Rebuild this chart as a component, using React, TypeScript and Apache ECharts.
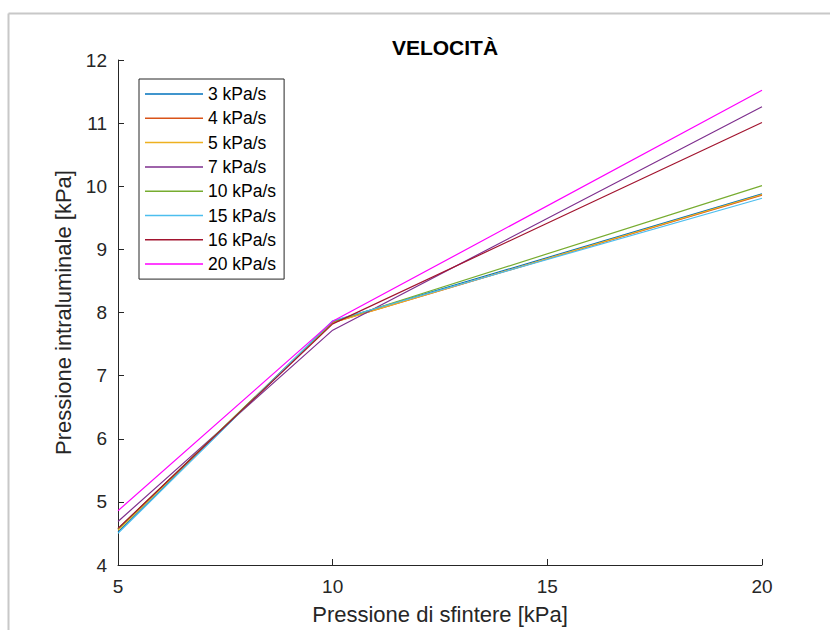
import React, { useEffect, useRef } from "react";
import * as echarts from "echarts";

const xValues = [5, 10, 20];
const seriesNames = ["3 kPa/s", "4 kPa/s", "5 kPa/s", "7 kPa/s", "10 kPa/s", "15 kPa/s", "16 kPa/s", "20 kPa/s"];
const v3 = [4.52, 7.86, 9.88];
const v4 = [4.57, 7.84, 9.86];
const v5 = [4.55, 7.84, 9.87];
const v7 = [4.69, 7.72, 11.26];
const v10 = [4.57, 7.85, 10.01];
const v15 = [4.5, 7.87, 9.81];
const v16 = [4.58, 7.82, 11.01];
const v20 = [4.86, 7.86, 11.52];
const seriesValues = [v3, v4, v5, v7, v10, v15, v16, v20];
const colors = ["#0072BD", "#D95319", "#EDB120", "#7E2F8E", "#77AC30", "#4DBEEE", "#A2142F", "#FF00FF"];

const FONT = "Liberation Sans, Arial, Helvetica, sans-serif";
const AX = "#262626";

export default function App() {
  const ref = useRef<HTMLDivElement>(null);
  useEffect(() => {
    const chart = echarts.init(ref.current!, null, { renderer: "svg" });
    chart.setOption({
      animation: false,
      backgroundColor: "#ffffff",
      title: {
        text: "VELOCITÀ",
        left: 440,
        textAlign: "center",
        top: 32,
        textStyle: { fontFamily: FONT, fontSize: 21, fontWeight: "bold", color: "#000" },
      },
      graphic: [
        { type: "line", shape: { x1: 8.5, y1: 13.5, x2: 8.5, y2: 630 }, style: { stroke: "#c8c8c8", lineWidth: 2 } },
        { type: "line", shape: { x1: 8.5, y1: 13.5, x2: 830, y2: 13.5 }, style: { stroke: "#c8c8c8", lineWidth: 2 } },
      ],
      legend: {
        orient: "vertical",
        left: 139,
        top: 79,
        padding: [5, 8, 5, 6],
        itemGap: 4.3,
        itemWidth: 58,
        itemHeight: 1.5,
        icon: "rect",
        borderColor: "#262626",
        borderWidth: 1,
        borderRadius: 0,
        backgroundColor: "#fff",
        textStyle: { fontFamily: FONT, fontSize: 17.5, color: "#000", lineHeight: 20 },
        data: seriesNames,
      },
      grid: { left: 118, right: 68, top: 60, bottom: 59, containLabel: false },
      xAxis: {
        type: "value",
        min: 5,
        max: 20,
        interval: 5,
        name: "Pressione di sfintere [kPa]",
        nameLocation: "middle",
        nameGap: 38,
        nameTextStyle: { fontFamily: FONT, fontSize: 22, color: AX },
        axisLine: { onZero: false, lineStyle: { color: AX, width: 1 } },
        axisTick: { inside: true, length: 6, lineStyle: { color: AX } },
        axisLabel: { fontFamily: FONT, fontSize: 19, color: AX, margin: 12 },
        splitLine: { show: false },
      },
      yAxis: {
        type: "value",
        min: 4,
        max: 12,
        interval: 1,
        name: "Pressione intraluminale [kPa]",
        nameLocation: "middle",
        nameGap: 39,
        nameTextStyle: { fontFamily: FONT, fontSize: 22, color: AX },
        axisLine: { show: true, onZero: false, lineStyle: { color: AX, width: 1 } },
        axisTick: { show: true, inside: true, length: 6, lineStyle: { color: AX } },
        axisLabel: { fontFamily: FONT, fontSize: 19, color: AX, margin: 11 },
        splitLine: { show: false },
      },
      series: seriesNames.map((name, i) => ({
        name,
        type: "line",
        symbol: "none",
        color: colors[i],
        lineStyle: { width: 1.2, color: colors[i] },
        data: xValues.map((x, j) => [x, seriesValues[i][j]]),
      })),
    });
    return () => chart.dispose();
  }, []);
  return <div ref={ref} style={{ position: "fixed", left: 0, top: 0, width: 830, height: 630 }} />;
}
